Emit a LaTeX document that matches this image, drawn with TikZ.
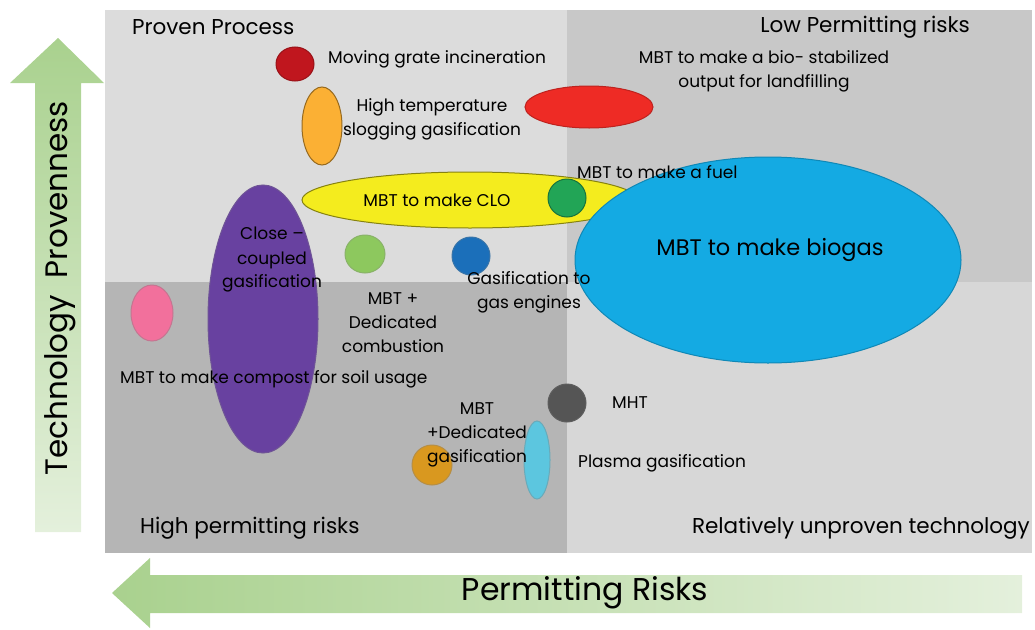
\documentclass[tikz,border=0pt]{standalone}
\usepackage{fontspec}
\setmainfont{Poppins}
\usepackage{tikz}
\usetikzlibrary{shapes.geometric,positioning}

\definecolor{qTL}{HTML}{DCDCDC}
\definecolor{qTR}{HTML}{C8C8C8}
\definecolor{qBL}{HTML}{B5B5B5}
\definecolor{qBR}{HTML}{D7D7D7}
\definecolor{arrowDark}{HTML}{A9D18E}
\definecolor{arrowLight}{HTML}{E4F0DC}
\definecolor{grateRed}{HTML}{C0161E}
\definecolor{slagOrange}{HTML}{FBB034}
\definecolor{landRed}{HTML}{EE2B25}
\definecolor{cloYellow}{HTML}{F4EC1E}
\definecolor{fuelGreen}{HTML}{22A556}
\definecolor{biogasBlue}{HTML}{14AAE3}
\definecolor{combGreen}{HTML}{8DC85E}
\definecolor{engBlue}{HTML}{1B6FBA}
\definecolor{coupPurple}{HTML}{6841A0}
\definecolor{compPink}{HTML}{F2709C}
\definecolor{mhtGray}{HTML}{555555}
\definecolor{plasmaBlue}{HTML}{5CC6DF}
\definecolor{dedOrange}{HTML}{D9981F}

\begin{document}
\begin{tikzpicture}[x=1pt,y=-1pt,font=\fontsize{17}{24}\selectfont]
\tikzstyle{blob}=[ellipse,inner sep=0pt,line width=1pt]
\tikzstyle{lbl}=[inner sep=0pt,align=center,text=black]
\tikzstyle{corner}=[inner sep=0pt,font=\fontsize{21.5}{24}\selectfont]
\useasboundingbox (0,0) rectangle (1035,629);

% quadrants
\fill[qTL] (105,10) rectangle (567,282);
\fill[qTR] (567,10) rectangle (1032,282);
\fill[qBL] (105,282) rectangle (567,553);
\fill[qBR] (567,282) rectangle (1032,553);

% axis arrows
\shade[top color=arrowDark,bottom color=arrowLight]
  (35,532) -- (35,83) -- (10,83) -- (58,38) -- (104,83) -- (81,83) -- (81,532) -- cycle;
\shade[left color=arrowDark,right color=arrowLight]
  (1022,575) -- (150,575) -- (150,558) -- (112,593) -- (150,628) -- (150,613) -- (1022,613) -- cycle;
\node[inner sep=0pt,rotate=90,font=\fontsize{31}{34}\selectfont] (provenness) at (60,288) {Technology\ \ Provenness};
\node[inner sep=0pt,font=\fontsize{31.5}{34}\selectfont] (risks) at (585,593) {Permitting Risks};

% quadrant titles
\node[corner,anchor=west] (proven) at (132,27) {Proven Process};
\node[corner,anchor=east] (lowrisk) at (970,27) {Low Permitting risks};
\node[corner,anchor=west] (highrisk) at (140,528) {High permitting risks};
\node[corner,anchor=east] (unproven) at (1030,528) {Relatively unproven technology};

% technologies
\node[blob,fill=grateRed,draw=grateRed!80!black,minimum width=38,minimum height=34] (grate) at (295,64) {};
\node[blob,fill=slagOrange,draw=slagOrange!60!black,minimum width=40,minimum height=78] (slagging) at (322,126) {};
\node[blob,fill=landRed,draw=landRed!80!black,minimum width=128,minimum height=42] (landfill) at (589,107) {};
\node[blob,fill=cloYellow,draw=cloYellow!55!black,minimum width=336,minimum height=56] (clo) at (470,200) {};
\node[blob,fill=fuelGreen,draw=fuelGreen!70!black,minimum width=38,minimum height=38] (fuel) at (567,198) {};
\node[blob,fill=biogasBlue,draw=biogasBlue!80!black,minimum width=386,minimum height=206] (biogas) at (768,260) {};
\node[blob,fill=combGreen,draw=combGreen!70!gray,minimum width=40,minimum height=38] (combustion) at (365,254) {};
\node[blob,fill=engBlue,draw=engBlue!70!gray,minimum width=38,minimum height=38] (engines) at (471,256) {};
\node[blob,fill=coupPurple,draw=coupPurple!70!gray,minimum width=110,minimum height=268] (coupled) at (263,319) {};
\node[blob,fill=compPink,draw=compPink!60!gray,minimum width=42,minimum height=56] (compost) at (152,313) {};
\node[blob,fill=mhtGray,draw=mhtGray!80!gray,minimum width=38,minimum height=38] (mht) at (567,403) {};
\node[blob,fill=plasmaBlue,draw=plasmaBlue!60!gray,minimum width=26,minimum height=78] (plasma) at (537,460) {};
\node[blob,fill=dedOrange,draw=dedOrange!60!gray,minimum width=40,minimum height=40] (dedgas) at (432,465) {};

% labels
\node[lbl,anchor=west] (grateText) at (328,59) {Moving grate incineration};
\node[lbl] (slaggingText) at (432,119) {High temperature\\slogging gasification};
\node[lbl] (landfillText) at (764,71) {MBT to make a bio- stabilized\\output for landfilling};
\node[lbl] (cloText) at (437,200) {MBT to make CLO};
\node[lbl,anchor=west] (fuelText) at (577,172) {MBT to make a fuel};
\node[lbl,font=\fontsize{22.5}{26}\selectfont] (biogasText) at (770,250) {MBT to make biogas};
\node[lbl] (coupledText) at (272,260) {Close --\\coupled\\gasification};
\node[lbl] (combustionText) at (393,323) {MBT +\\Dedicated\\combustion};
\node[lbl] (enginesText) at (529,292) {Gasification to\\gas engines};
\node[lbl,anchor=west] (compostText) at (120,379) {MBT to make compost for soil usage};
\node[lbl,anchor=west] (mhtText) at (612,403) {MHT};
\node[lbl] (dedgasText) at (477,435) {MBT\\+Dedicated\\gasification};
\node[lbl,anchor=west] (plasmaText) at (578,463) {Plasma gasification};
\end{tikzpicture}
\end{document}
